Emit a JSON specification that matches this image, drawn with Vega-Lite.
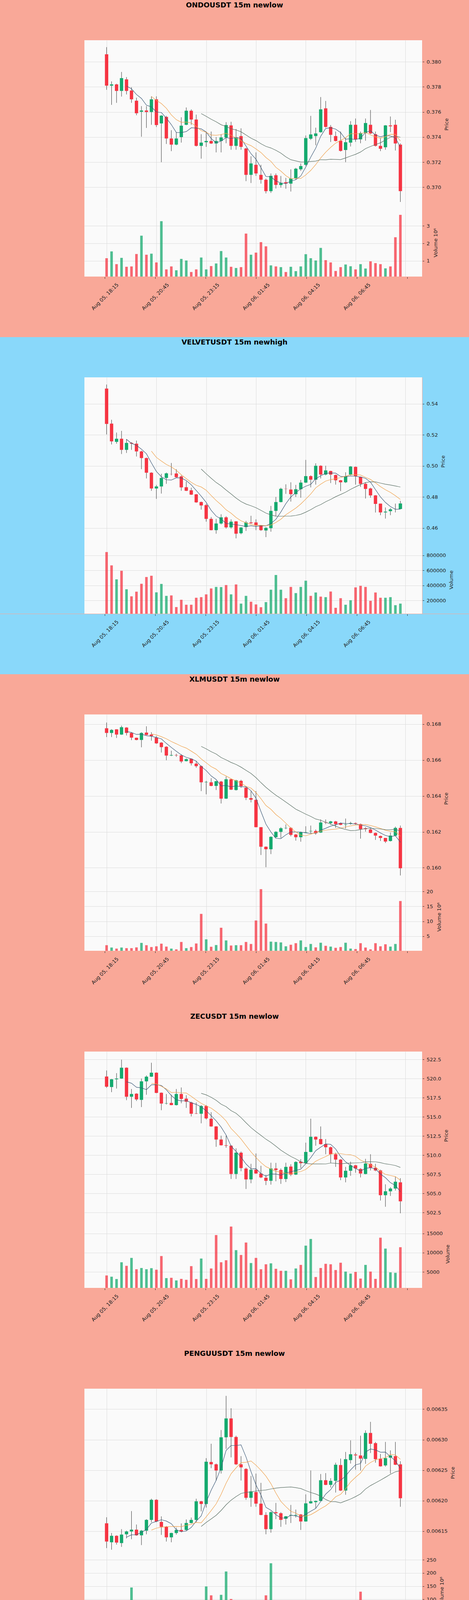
{
  "$schema": "https://vega.github.io/schema/vega-lite/v6.json",
  "padding": 0,
  "background": "#F9A898",
  "spacing": 0,
  "config": {
    "view": {"stroke": null},
    "font": "DejaVu Sans",
    "axis": {"gridColor": "#dcdcdc", "gridWidth": 1, "labelColor": "#222222", "titleColor": "#222222", "tickColor": "#222222", "labelFont": "DejaVu Sans", "titleFont": "DejaVu Sans", "labelFontSize": 13, "titleFontSize": 13, "titleFontWeight": "normal"},
    "title": {"font": "DejaVu Sans", "fontSize": 18, "fontWeight": "bold", "color": "#000000"}
  },
  "datasets": {
    "ondo": [
      {"i":0,"o":0.3806,"h":0.38117,"l":0.37777,"c":0.3781,"v":1.15},
      {"i":1,"o":0.3781,"h":0.37844,"l":0.37657,"c":0.3782,"v":1.54},
      {"i":2,"o":0.3782,"h":0.37825,"l":0.37673,"c":0.37768,"v":0.81},
      {"i":3,"o":0.37768,"h":0.37919,"l":0.37723,"c":0.3787,"v":1.17},
      {"i":4,"o":0.3786,"h":0.37878,"l":0.3774,"c":0.37768,"v":0.66},
      {"i":5,"o":0.37771,"h":0.37797,"l":0.37673,"c":0.37701,"v":0.68},
      {"i":6,"o":0.3769,"h":0.37714,"l":0.37574,"c":0.3759,"v":1.39},
      {"i":7,"o":0.37602,"h":0.37647,"l":0.37403,"c":0.37612,"v":2.44},
      {"i":8,"o":0.37612,"h":0.37647,"l":0.37473,"c":0.376,"v":1.35},
      {"i":9,"o":0.376,"h":0.37725,"l":0.37498,"c":0.37701,"v":1.41},
      {"i":10,"o":0.37701,"h":0.37725,"l":0.3748,"c":0.37496,"v":0.91},
      {"i":11,"o":0.37509,"h":0.37575,"l":0.372,"c":0.37571,"v":3.27},
      {"i":12,"o":0.37561,"h":0.37569,"l":0.37345,"c":0.37389,"v":0.51},
      {"i":13,"o":0.37389,"h":0.37455,"l":0.37288,"c":0.3734,"v":0.68},
      {"i":14,"o":0.3734,"h":0.37439,"l":0.37335,"c":0.37389,"v":0.46},
      {"i":15,"o":0.374,"h":0.37558,"l":0.37356,"c":0.37491,"v":1.11},
      {"i":16,"o":0.37498,"h":0.37636,"l":0.37495,"c":0.3761,"v":1.02},
      {"i":17,"o":0.3761,"h":0.37621,"l":0.37498,"c":0.3754,"v":0.36},
      {"i":18,"o":0.3754,"h":0.37579,"l":0.37325,"c":0.3733,"v":0.51},
      {"i":19,"o":0.3733,"h":0.37423,"l":0.37228,"c":0.37356,"v":1.19},
      {"i":20,"o":0.37359,"h":0.37444,"l":0.37322,"c":0.37369,"v":0.51},
      {"i":21,"o":0.37369,"h":0.37444,"l":0.37345,"c":0.37349,"v":0.7},
      {"i":22,"o":0.37349,"h":0.374,"l":0.37278,"c":0.37369,"v":0.85},
      {"i":23,"o":0.37369,"h":0.37423,"l":0.37278,"c":0.37397,"v":1.56},
      {"i":24,"o":0.37397,"h":0.37519,"l":0.37351,"c":0.37496,"v":1.19},
      {"i":25,"o":0.37493,"h":0.37522,"l":0.37299,"c":0.3733,"v":0.66},
      {"i":26,"o":0.3733,"h":0.37465,"l":0.37299,"c":0.37397,"v":0.59},
      {"i":27,"o":0.37408,"h":0.3747,"l":0.37299,"c":0.37322,"v":0.64},
      {"i":28,"o":0.37309,"h":0.37315,"l":0.37049,"c":0.37099,"v":2.56},
      {"i":29,"o":0.37099,"h":0.37247,"l":0.37034,"c":0.3719,"v":1.35},
      {"i":30,"o":0.37179,"h":0.37278,"l":0.37091,"c":0.3711,"v":1.47},
      {"i":31,"o":0.37099,"h":0.37179,"l":0.37029,"c":0.3706,"v":2.07},
      {"i":32,"o":0.3706,"h":0.3707,"l":0.36951,"c":0.36969,"v":1.83},
      {"i":33,"o":0.36969,"h":0.3711,"l":0.36955,"c":0.37091,"v":0.74},
      {"i":34,"o":0.37096,"h":0.3711,"l":0.3699,"c":0.37019,"v":0.68},
      {"i":35,"o":0.37018,"h":0.3709,"l":0.36997,"c":0.37034,"v":0.64},
      {"i":36,"o":0.3704,"h":0.37075,"l":0.36988,"c":0.3703,"v":0.36},
      {"i":37,"o":0.37029,"h":0.37143,"l":0.36966,"c":0.3707,"v":0.66},
      {"i":38,"o":0.3707,"h":0.37155,"l":0.3706,"c":0.37148,"v":0.41},
      {"i":39,"o":0.37143,"h":0.3719,"l":0.3713,"c":0.37169,"v":0.68},
      {"i":40,"o":0.37179,"h":0.37413,"l":0.3717,"c":0.37392,"v":1.38},
      {"i":41,"o":0.37387,"h":0.37569,"l":0.37377,"c":0.37421,"v":1.15},
      {"i":42,"o":0.37408,"h":0.37475,"l":0.37335,"c":0.37429,"v":1.02},
      {"i":43,"o":0.37439,"h":0.37719,"l":0.37435,"c":0.37621,"v":1.74},
      {"i":44,"o":0.37629,"h":0.37688,"l":0.37475,"c":0.37481,"v":1.04},
      {"i":45,"o":0.37481,"h":0.37496,"l":0.37361,"c":0.37418,"v":0.91},
      {"i":46,"o":0.37408,"h":0.37444,"l":0.37365,"c":0.37369,"v":0.42},
      {"i":47,"o":0.37371,"h":0.37444,"l":0.37285,"c":0.3729,"v":0.64},
      {"i":48,"o":0.37297,"h":0.37392,"l":0.372,"c":0.37359,"v":0.79},
      {"i":49,"o":0.37356,"h":0.37527,"l":0.37325,"c":0.37498,"v":0.69},
      {"i":50,"o":0.37498,"h":0.37548,"l":0.37362,"c":0.37382,"v":0.51},
      {"i":51,"o":0.37382,"h":0.37444,"l":0.37351,"c":0.37432,"v":0.81},
      {"i":52,"o":0.37432,"h":0.37548,"l":0.37371,"c":0.37512,"v":0.56},
      {"i":53,"o":0.37498,"h":0.37616,"l":0.37423,"c":0.37429,"v":0.97},
      {"i":54,"o":0.37423,"h":0.37444,"l":0.37325,"c":0.3733,"v":0.87},
      {"i":55,"o":0.3733,"h":0.37392,"l":0.37288,"c":0.37307,"v":0.81},
      {"i":56,"o":0.37319,"h":0.37496,"l":0.37299,"c":0.37493,"v":0.57},
      {"i":57,"o":0.37493,"h":0.37564,"l":0.37439,"c":0.37486,"v":0.68},
      {"i":58,"o":0.37498,"h":0.37538,"l":0.37293,"c":0.37349,"v":2.35},
      {"i":59,"o":0.3734,"h":0.3735,"l":0.36883,"c":0.36969,"v":3.63}
    ],
    "velvet": [
      {"i":0,"o":0.54985,"h":0.55244,"l":0.5203,"c":0.52706,"v":845000},
      {"i":1,"o":0.52726,"h":0.52975,"l":0.51383,"c":0.51582,"v":668000},
      {"i":2,"o":0.51552,"h":0.52149,"l":0.51433,"c":0.51751,"v":482000},
      {"i":3,"o":0.51751,"h":0.52259,"l":0.50766,"c":0.51035,"v":596000},
      {"i":4,"o":0.51035,"h":0.51731,"l":0.50836,"c":0.51483,"v":350000},
      {"i":5,"o":0.51483,"h":0.51532,"l":0.51035,"c":0.51433,"v":256000},
      {"i":6,"o":0.51433,"h":0.51632,"l":0.50607,"c":0.50935,"v":318000},
      {"i":7,"o":0.50935,"h":0.50985,"l":0.49791,"c":0.50507,"v":423000},
      {"i":8,"o":0.50507,"h":0.50537,"l":0.49194,"c":0.49562,"v":513000},
      {"i":9,"o":0.49562,"h":0.49592,"l":0.48398,"c":0.48547,"v":530000},
      {"i":10,"o":0.48547,"h":0.48776,"l":0.47876,"c":0.48677,"v":309000},
      {"i":11,"o":0.48677,"h":0.49493,"l":0.48219,"c":0.49224,"v":421000},
      {"i":12,"o":0.49224,"h":0.49572,"l":0.48846,"c":0.49522,"v":262000},
      {"i":13,"o":0.49483,"h":0.50189,"l":0.49393,"c":0.49473,"v":268000},
      {"i":14,"o":0.49512,"h":0.49791,"l":0.4925,"c":0.49274,"v":113000},
      {"i":15,"o":0.49323,"h":0.49393,"l":0.48398,"c":0.48617,"v":210000},
      {"i":16,"o":0.48627,"h":0.49,"l":0.4838,"c":0.48398,"v":144000},
      {"i":17,"o":0.48428,"h":0.48597,"l":0.4813,"c":0.48149,"v":144000},
      {"i":18,"o":0.48169,"h":0.4819,"l":0.47622,"c":0.47652,"v":237000},
      {"i":19,"o":0.47672,"h":0.47702,"l":0.47184,"c":0.47453,"v":245000},
      {"i":20,"o":0.47473,"h":0.47553,"l":0.46408,"c":0.46587,"v":282000},
      {"i":21,"o":0.46587,"h":0.46706,"l":0.4585,"c":0.45861,"v":361000},
      {"i":22,"o":0.45861,"h":0.46587,"l":0.45632,"c":0.46289,"v":381000},
      {"i":23,"o":0.46289,"h":0.46886,"l":0.46229,"c":0.46687,"v":379000},
      {"i":24,"o":0.46687,"h":0.46756,"l":0.4596,"c":0.4604,"v":406000},
      {"i":25,"o":0.4604,"h":0.46557,"l":0.4596,"c":0.46408,"v":282000},
      {"i":26,"o":0.46428,"h":0.46438,"l":0.45333,"c":0.45632,"v":414000},
      {"i":27,"o":0.45662,"h":0.4606,"l":0.45592,"c":0.4603,"v":159000},
      {"i":28,"o":0.4606,"h":0.46458,"l":0.45811,"c":0.46358,"v":262000},
      {"i":29,"o":0.46358,"h":0.46786,"l":0.46268,"c":0.46308,"v":184000},
      {"i":30,"o":0.46358,"h":0.46557,"l":0.45861,"c":0.4616,"v":148000},
      {"i":31,"o":0.4616,"h":0.4619,"l":0.45811,"c":0.45861,"v":111000},
      {"i":32,"o":0.45841,"h":0.4606,"l":0.45413,"c":0.4601,"v":179000},
      {"i":33,"o":0.4599,"h":0.47423,"l":0.45761,"c":0.47104,"v":344000},
      {"i":34,"o":0.47104,"h":0.48,"l":0.46756,"c":0.47672,"v":540000},
      {"i":35,"o":0.47672,"h":0.48597,"l":0.47652,"c":0.48527,"v":344000},
      {"i":36,"o":0.48527,"h":0.48816,"l":0.48199,"c":0.48517,"v":231000},
      {"i":37,"o":0.48478,"h":0.48945,"l":0.47701,"c":0.48179,"v":381000},
      {"i":38,"o":0.48179,"h":0.48776,"l":0.48,"c":0.48498,"v":299000},
      {"i":39,"o":0.48498,"h":0.49094,"l":0.4795,"c":0.48925,"v":381000},
      {"i":40,"o":0.48925,"h":0.50388,"l":0.489,"c":0.49343,"v":464000},
      {"i":41,"o":0.49343,"h":0.49393,"l":0.48617,"c":0.49114,"v":262000},
      {"i":42,"o":0.49114,"h":0.50169,"l":0.48796,"c":0.5001,"v":307000},
      {"i":43,"o":0.5001,"h":0.5004,"l":0.49194,"c":0.49443,"v":252000},
      {"i":44,"o":0.49443,"h":0.5001,"l":0.49393,"c":0.49711,"v":245000},
      {"i":45,"o":0.49672,"h":0.49692,"l":0.48896,"c":0.49443,"v":320000},
      {"i":46,"o":0.49413,"h":0.49443,"l":0.48796,"c":0.49075,"v":103000},
      {"i":47,"o":0.49075,"h":0.49094,"l":0.48378,"c":0.48945,"v":231000},
      {"i":48,"o":0.48945,"h":0.49592,"l":0.48896,"c":0.49343,"v":144000},
      {"i":49,"o":0.49443,"h":0.4999,"l":0.49393,"c":0.4996,"v":204000},
      {"i":50,"o":0.4994,"h":0.4996,"l":0.48796,"c":0.49343,"v":375000},
      {"i":51,"o":0.49294,"h":0.49314,"l":0.48647,"c":0.48846,"v":396000},
      {"i":52,"o":0.48846,"h":0.48945,"l":0.479,"c":0.48517,"v":381000},
      {"i":53,"o":0.48547,"h":0.48597,"l":0.4795,"c":0.481,"v":196000},
      {"i":54,"o":0.481,"h":0.4812,"l":0.46997,"c":0.47552,"v":307000},
      {"i":55,"o":0.47572,"h":0.47572,"l":0.46826,"c":0.47005,"v":237000},
      {"i":56,"o":0.47005,"h":0.47323,"l":0.46607,"c":0.47055,"v":237000},
      {"i":57,"o":0.47085,"h":0.47284,"l":0.46826,"c":0.47204,"v":245000},
      {"i":58,"o":0.47214,"h":0.47572,"l":0.47005,"c":0.47224,"v":138000},
      {"i":59,"o":0.47224,"h":0.47751,"l":0.47204,"c":0.47582,"v":159000}
    ],
    "xlm": [
      {"i":0,"o":0.16777,"h":0.16809,"l":0.16728,"c":0.16751,"v":2.02},
      {"i":1,"o":0.16751,"h":0.16772,"l":0.16728,"c":0.16768,"v":1.24},
      {"i":2,"o":0.16771,"h":0.16772,"l":0.16723,"c":0.16742,"v":0.88},
      {"i":3,"o":0.16742,"h":0.16792,"l":0.1674,"c":0.16783,"v":1.24},
      {"i":4,"o":0.16781,"h":0.16783,"l":0.16737,"c":0.16751,"v":1.03},
      {"i":5,"o":0.16751,"h":0.16755,"l":0.16711,"c":0.16725,"v":1.03},
      {"i":6,"o":0.16724,"h":0.16725,"l":0.1671,"c":0.16712,"v":1.29},
      {"i":7,"o":0.16712,"h":0.16755,"l":0.16671,"c":0.16751,"v":2.79},
      {"i":8,"o":0.16753,"h":0.16788,"l":0.16738,"c":0.1674,"v":2.02},
      {"i":9,"o":0.16742,"h":0.16755,"l":0.16708,"c":0.16734,"v":1.4},
      {"i":10,"o":0.16725,"h":0.16734,"l":0.1669,"c":0.16693,"v":1.65},
      {"i":11,"o":0.16697,"h":0.167,"l":0.16642,"c":0.16672,"v":2.53},
      {"i":12,"o":0.16674,"h":0.16677,"l":0.16599,"c":0.16625,"v":1.55},
      {"i":13,"o":0.16625,"h":0.16652,"l":0.16622,"c":0.16628,"v":0.88},
      {"i":14,"o":0.16628,"h":0.16635,"l":0.16618,"c":0.16626,"v":0.62},
      {"i":15,"o":0.16626,"h":0.16632,"l":0.16583,"c":0.16592,"v":3.1},
      {"i":16,"o":0.16594,"h":0.16609,"l":0.16592,"c":0.16605,"v":1.03},
      {"i":17,"o":0.16607,"h":0.16609,"l":0.1657,"c":0.16582,"v":1.4},
      {"i":18,"o":0.1658,"h":0.16593,"l":0.16557,"c":0.16566,"v":2.59},
      {"i":19,"o":0.16566,"h":0.1657,"l":0.16427,"c":0.16476,"v":12.5},
      {"i":20,"o":0.16476,"h":0.16484,"l":0.16409,"c":0.16478,"v":3.98},
      {"i":21,"o":0.16476,"h":0.16499,"l":0.16454,"c":0.16456,"v":1.5},
      {"i":22,"o":0.16456,"h":0.16484,"l":0.16433,"c":0.16482,"v":2.07},
      {"i":23,"o":0.1648,"h":0.16484,"l":0.16358,"c":0.16385,"v":7.86},
      {"i":24,"o":0.16385,"h":0.16508,"l":0.16383,"c":0.16493,"v":3.62},
      {"i":25,"o":0.16493,"h":0.16497,"l":0.16433,"c":0.16435,"v":1.91},
      {"i":26,"o":0.16433,"h":0.1649,"l":0.1643,"c":0.16487,"v":2.02},
      {"i":27,"o":0.16484,"h":0.1649,"l":0.16445,"c":0.16454,"v":2.02},
      {"i":28,"o":0.16446,"h":0.1645,"l":0.16377,"c":0.1639,"v":3.1},
      {"i":29,"o":0.16388,"h":0.16427,"l":0.16364,"c":0.16379,"v":2.43},
      {"i":30,"o":0.16378,"h":0.16427,"l":0.16225,"c":0.16226,"v":10.29},
      {"i":31,"o":0.16226,"h":0.16226,"l":0.16071,"c":0.16117,"v":20.79},
      {"i":32,"o":0.16117,"h":0.16119,"l":0.16003,"c":0.16103,"v":9.26},
      {"i":33,"o":0.16103,"h":0.16175,"l":0.16076,"c":0.16172,"v":3.21},
      {"i":34,"o":0.1617,"h":0.16204,"l":0.16166,"c":0.162,"v":3.1},
      {"i":35,"o":0.162,"h":0.16226,"l":0.16166,"c":0.1622,"v":2.95},
      {"i":36,"o":0.1622,"h":0.16241,"l":0.16215,"c":0.16222,"v":1.65},
      {"i":37,"o":0.16222,"h":0.16226,"l":0.16175,"c":0.16183,"v":2.17},
      {"i":38,"o":0.16185,"h":0.16188,"l":0.16151,"c":0.1617,"v":2.69},
      {"i":39,"o":0.1617,"h":0.16201,"l":0.16145,"c":0.16198,"v":3.62},
      {"i":40,"o":0.16196,"h":0.16231,"l":0.16194,"c":0.16198,"v":1.4},
      {"i":41,"o":0.16203,"h":0.16235,"l":0.16192,"c":0.16205,"v":2.43},
      {"i":42,"o":0.16205,"h":0.16213,"l":0.16184,"c":0.16192,"v":1.29},
      {"i":43,"o":0.16196,"h":0.16269,"l":0.16194,"c":0.16252,"v":2.84},
      {"i":44,"o":0.16254,"h":0.16269,"l":0.16243,"c":0.16252,"v":1.81},
      {"i":45,"o":0.16249,"h":0.16261,"l":0.1624,"c":0.16258,"v":1.55},
      {"i":46,"o":0.16258,"h":0.16261,"l":0.16222,"c":0.16243,"v":1.14},
      {"i":47,"o":0.16249,"h":0.16252,"l":0.16237,"c":0.16239,"v":1.4},
      {"i":48,"o":0.16239,"h":0.16274,"l":0.16218,"c":0.16241,"v":2.84},
      {"i":49,"o":0.16245,"h":0.16256,"l":0.1624,"c":0.16249,"v":0.88},
      {"i":50,"o":0.16249,"h":0.16252,"l":0.1624,"c":0.16246,"v":0.72},
      {"i":51,"o":0.16243,"h":0.16246,"l":0.16162,"c":0.16215,"v":2.69},
      {"i":52,"o":0.1622,"h":0.16226,"l":0.16201,"c":0.16215,"v":1.24},
      {"i":53,"o":0.16213,"h":0.1622,"l":0.16192,"c":0.16194,"v":0.62},
      {"i":54,"o":0.16194,"h":0.16196,"l":0.16155,"c":0.16179,"v":2.69},
      {"i":55,"o":0.16177,"h":0.16179,"l":0.16149,"c":0.16166,"v":1.65},
      {"i":56,"o":0.16166,"h":0.16166,"l":0.16138,"c":0.16146,"v":2.33},
      {"i":57,"o":0.16149,"h":0.16196,"l":0.16146,"c":0.16179,"v":1.55},
      {"i":58,"o":0.16179,"h":0.16229,"l":0.16175,"c":0.16222,"v":2.43},
      {"i":59,"o":0.16222,"h":0.16235,"l":0.15957,"c":0.15997,"v":16.8}
    ],
    "zec": [
      {"i":0,"o":520.28,"h":521.07,"l":518.81,"c":518.95,"v":4069},
      {"i":1,"o":518.91,"h":519.96,"l":518.24,"c":519.92,"v":3745},
      {"i":2,"o":519.92,"h":520.72,"l":518.71,"c":520.02,"v":3138},
      {"i":3,"o":520.02,"h":522.48,"l":519.98,"c":521.43,"v":7511},
      {"i":4,"o":521.43,"h":521.47,"l":517.19,"c":517.64,"v":6580},
      {"i":5,"o":517.64,"h":518.65,"l":516.18,"c":518.0,"v":8645},
      {"i":6,"o":518.04,"h":518.1,"l":517.09,"c":517.29,"v":5689},
      {"i":7,"o":517.23,"h":520.02,"l":516.29,"c":519.65,"v":6013},
      {"i":8,"o":519.65,"h":520.42,"l":517.9,"c":520.26,"v":5689},
      {"i":9,"o":520.26,"h":522.08,"l":520.22,"c":520.78,"v":5972},
      {"i":10,"o":520.78,"h":520.82,"l":518.1,"c":518.14,"v":5567},
      {"i":11,"o":518.16,"h":518.2,"l":515.88,"c":516.75,"v":9130},
      {"i":12,"o":516.75,"h":518.0,"l":516.63,"c":516.79,"v":3381},
      {"i":13,"o":516.83,"h":517.9,"l":516.53,"c":516.55,"v":3462},
      {"i":14,"o":516.55,"h":518.65,"l":516.49,"c":518.0,"v":2774},
      {"i":15,"o":518.0,"h":518.85,"l":516.79,"c":517.35,"v":3178},
      {"i":16,"o":517.39,"h":517.84,"l":516.18,"c":516.99,"v":2935},
      {"i":17,"o":516.89,"h":516.99,"l":515.07,"c":515.42,"v":6499},
      {"i":18,"o":515.46,"h":516.89,"l":515.38,"c":515.42,"v":3138},
      {"i":19,"o":515.42,"h":516.55,"l":514.17,"c":516.43,"v":8483},
      {"i":20,"o":516.43,"h":516.55,"l":514.67,"c":514.81,"v":3178},
      {"i":21,"o":514.77,"h":515.62,"l":513.72,"c":513.76,"v":5891},
      {"i":22,"o":513.76,"h":513.8,"l":511.1,"c":512.05,"v":14597},
      {"i":23,"o":512.05,"h":512.55,"l":511.26,"c":511.3,"v":7511},
      {"i":24,"o":511.3,"h":512.55,"l":510.98,"c":511.24,"v":8037},
      {"i":25,"o":511.24,"h":511.34,"l":506.9,"c":507.55,"v":16823},
      {"i":26,"o":507.55,"h":510.9,"l":506.9,"c":510.33,"v":10669},
      {"i":27,"o":510.33,"h":510.49,"l":507.91,"c":508.32,"v":9414},
      {"i":28,"o":508.26,"h":508.42,"l":505.59,"c":506.84,"v":12653},
      {"i":29,"o":506.84,"h":508.88,"l":506.34,"c":508.11,"v":7309},
      {"i":30,"o":508.11,"h":510.23,"l":507.58,"c":507.61,"v":8645},
      {"i":31,"o":507.61,"h":508.62,"l":507.0,"c":507.1,"v":5689},
      {"i":32,"o":507.06,"h":507.45,"l":506.1,"c":506.66,"v":6985},
      {"i":33,"o":506.66,"h":509.02,"l":506.16,"c":508.27,"v":7228},
      {"i":34,"o":508.27,"h":509.0,"l":506.6,"c":508.07,"v":5810},
      {"i":35,"o":508.07,"h":508.27,"l":506.26,"c":506.9,"v":5284},
      {"i":36,"o":506.9,"h":509.02,"l":506.5,"c":508.48,"v":5284},
      {"i":37,"o":508.52,"h":508.82,"l":507.27,"c":507.47,"v":3057},
      {"i":38,"o":507.47,"h":509.22,"l":507.41,"c":509.12,"v":5891},
      {"i":39,"o":509.16,"h":509.49,"l":508.32,"c":508.96,"v":6823},
      {"i":40,"o":508.96,"h":511.64,"l":508.92,"c":510.43,"v":11843},
      {"i":41,"o":510.43,"h":514.77,"l":510.39,"c":512.41,"v":13584},
      {"i":42,"o":512.41,"h":512.45,"l":511.24,"c":512.05,"v":3664},
      {"i":43,"o":512.11,"h":513.76,"l":511.4,"c":511.44,"v":6013},
      {"i":44,"o":511.44,"h":512.11,"l":510.13,"c":511.04,"v":7106},
      {"i":45,"o":511.04,"h":511.14,"l":509.02,"c":510.13,"v":6985},
      {"i":46,"o":510.13,"h":510.33,"l":508.48,"c":509.43,"v":5486},
      {"i":47,"o":509.43,"h":509.49,"l":506.74,"c":507.1,"v":7390},
      {"i":48,"o":507.1,"h":508.48,"l":506.46,"c":507.97,"v":5081},
      {"i":49,"o":507.97,"h":509.16,"l":507.31,"c":508.68,"v":4555},
      {"i":50,"o":508.68,"h":508.74,"l":507.71,"c":508.27,"v":5000},
      {"i":51,"o":508.21,"h":508.32,"l":507.1,"c":507.61,"v":3259},
      {"i":52,"o":507.55,"h":509.53,"l":507.51,"c":508.92,"v":6823},
      {"i":53,"o":508.88,"h":510.13,"l":508.01,"c":508.36,"v":5081},
      {"i":54,"o":508.36,"h":508.88,"l":507.91,"c":508.01,"v":3178},
      {"i":55,"o":508.01,"h":508.11,"l":504.08,"c":504.78,"v":13908},
      {"i":56,"o":504.78,"h":506.2,"l":503.27,"c":505.29,"v":11074},
      {"i":57,"o":505.29,"h":505.83,"l":504.68,"c":505.65,"v":4879},
      {"i":58,"o":505.65,"h":507.21,"l":505.39,"c":506.54,"v":4757},
      {"i":59,"o":506.46,"h":507.0,"l":502.42,"c":503.98,"v":11438}
    ],
    "pengu": [
      {"i":0,"o":0.0061629,"h":0.0061728,"l":0.0061222,"c":0.006133,"v":24},
      {"i":1,"o":0.0061318,"h":0.006147,"l":0.0061196,"c":0.0061424,"v":33},
      {"i":2,"o":0.0061424,"h":0.0061432,"l":0.006128,"c":0.0061313,"v":10},
      {"i":3,"o":0.0061305,"h":0.0061533,"l":0.0061242,"c":0.0061444,"v":22},
      {"i":4,"o":0.0061449,"h":0.0061508,"l":0.0061381,"c":0.0061495,"v":10},
      {"i":5,"o":0.0061495,"h":0.0061829,"l":0.0061368,"c":0.0061525,"v":145},
      {"i":6,"o":0.0061525,"h":0.0061609,"l":0.0061424,"c":0.0061432,"v":30},
      {"i":7,"o":0.0061432,"h":0.006152,"l":0.0061272,"c":0.0061508,"v":53},
      {"i":8,"o":0.0061508,"h":0.0061697,"l":0.0061449,"c":0.0061685,"v":24},
      {"i":9,"o":0.0061685,"h":0.0062032,"l":0.0061647,"c":0.0062014,"v":78},
      {"i":10,"o":0.0062014,"h":0.0062024,"l":0.0061647,"c":0.0061659,"v":19},
      {"i":11,"o":0.0061652,"h":0.0061743,"l":0.0061439,"c":0.0061571,"v":32},
      {"i":12,"o":0.0061571,"h":0.0061584,"l":0.006133,"c":0.0061399,"v":19},
      {"i":13,"o":0.0061399,"h":0.0061475,"l":0.0061318,"c":0.006147,"v":9},
      {"i":14,"o":0.006147,"h":0.0061558,"l":0.0061444,"c":0.006152,"v":9},
      {"i":15,"o":0.006152,"h":0.0061627,"l":0.0061482,"c":0.0061495,"v":15},
      {"i":16,"o":0.006152,"h":0.0061692,"l":0.0061508,"c":0.0061634,"v":13},
      {"i":17,"o":0.0061634,"h":0.0061723,"l":0.0061627,"c":0.0061685,"v":9},
      {"i":18,"o":0.0061685,"h":0.0062032,"l":0.0061647,"c":0.0061989,"v":77},
      {"i":19,"o":0.0061989,"h":0.0061996,"l":0.0061824,"c":0.0061946,"v":58},
      {"i":20,"o":0.0061946,"h":0.0062697,"l":0.0061887,"c":0.0062639,"v":149},
      {"i":21,"o":0.0062634,"h":0.0062933,"l":0.0062533,"c":0.0062596,"v":115},
      {"i":22,"o":0.0062596,"h":0.0062609,"l":0.006233,"c":0.0062495,"v":58},
      {"i":23,"o":0.0062495,"h":0.0063158,"l":0.0062444,"c":0.0063039,"v":117},
      {"i":24,"o":0.0063039,"h":0.0063718,"l":0.0062849,"c":0.0063348,"v":206},
      {"i":25,"o":0.0063348,"h":0.0063515,"l":0.006271,"c":0.0063044,"v":101},
      {"i":26,"o":0.0063044,"h":0.0063065,"l":0.0062584,"c":0.0062596,"v":50},
      {"i":27,"o":0.0062596,"h":0.006273,"l":0.006233,"c":0.0062546,"v":93},
      {"i":28,"o":0.006252,"h":0.0062533,"l":0.0062014,"c":0.0062047,"v":53},
      {"i":29,"o":0.0062047,"h":0.0062406,"l":0.00619,"c":0.0062153,"v":59},
      {"i":30,"o":0.0062141,"h":0.0062444,"l":0.00619,"c":0.0061951,"v":64},
      {"i":31,"o":0.0061951,"h":0.0062292,"l":0.0061761,"c":0.0061766,"v":67},
      {"i":32,"o":0.0061766,"h":0.0061811,"l":0.0061449,"c":0.0061533,"v":115},
      {"i":33,"o":0.0061533,"h":0.0061824,"l":0.0061475,"c":0.0061811,"v":237},
      {"i":34,"o":0.0061811,"h":0.0061963,"l":0.0061697,"c":0.0061794,"v":33},
      {"i":35,"o":0.0061794,"h":0.0061811,"l":0.0061571,"c":0.0061685,"v":24},
      {"i":36,"o":0.0061703,"h":0.0061748,"l":0.0061609,"c":0.0061743,"v":16},
      {"i":37,"o":0.0061758,"h":0.006193,"l":0.0061634,"c":0.0061766,"v":29},
      {"i":38,"o":0.0061758,"h":0.0061854,"l":0.0061723,"c":0.0061766,"v":21},
      {"i":39,"o":0.0061773,"h":0.0061781,"l":0.006152,"c":0.0061659,"v":43},
      {"i":40,"o":0.0061659,"h":0.0062103,"l":0.0061655,"c":0.0061956,"v":64},
      {"i":41,"o":0.0061956,"h":0.0062495,"l":0.0061951,"c":0.0061989,"v":83},
      {"i":42,"o":0.0061976,"h":0.0062002,"l":0.0061875,"c":0.0061996,"v":21},
      {"i":43,"o":0.0061996,"h":0.0062437,"l":0.0061991,"c":0.0062335,"v":43},
      {"i":44,"o":0.0062335,"h":0.0062452,"l":0.0062254,"c":0.0062259,"v":30},
      {"i":45,"o":0.0062259,"h":0.0062368,"l":0.0062216,"c":0.0062325,"v":12},
      {"i":46,"o":0.0062325,"h":0.0062622,"l":0.0062133,"c":0.0062589,"v":44},
      {"i":47,"o":0.0062584,"h":0.006269,"l":0.0062158,"c":0.0062166,"v":40},
      {"i":48,"o":0.0062166,"h":0.0062799,"l":0.0062097,"c":0.006268,"v":40},
      {"i":49,"o":0.0062665,"h":0.0062989,"l":0.0062609,"c":0.0062761,"v":59},
      {"i":50,"o":0.0062756,"h":0.0062786,"l":0.0062508,"c":0.0062743,"v":61},
      {"i":51,"o":0.0062741,"h":0.0063065,"l":0.0062495,"c":0.006269,"v":129},
      {"i":52,"o":0.0062685,"h":0.0063153,"l":0.0062604,"c":0.006311,"v":30},
      {"i":53,"o":0.006311,"h":0.0063292,"l":0.0062781,"c":0.0062933,"v":65},
      {"i":54,"o":0.0062943,"h":0.0062963,"l":0.0062622,"c":0.006268,"v":34},
      {"i":55,"o":0.0062685,"h":0.0062766,"l":0.0062558,"c":0.0062563,"v":39},
      {"i":56,"o":0.0062578,"h":0.0062963,"l":0.0062558,"c":0.0062697,"v":52},
      {"i":57,"o":0.0062705,"h":0.0062824,"l":0.0062444,"c":0.0062741,"v":52},
      {"i":58,"o":0.006273,"h":0.0062963,"l":0.0062584,"c":0.0062589,"v":64},
      {"i":59,"o":0.0062596,"h":0.0062647,"l":0.00619,"c":0.0062039,"v":86}
    ]
  },
  "vconcat": [
    {
      "spacing": 0,
      "vconcat": [
        {"data": {"values": []}, "mark": "point", "width": 1200, "height": 103, "view": {"fill": "#F9A898", "stroke": null},
         "title": {"text": "ONDOUSDT 15m newlow", "orient": "top", "anchor": "middle", "offset": -23}},
        {"spacing": 0, "hconcat": [
          {"data": {"values": []}, "mark": "point", "width": 216, "height": 605, "view": {"fill": "#F9A898", "stroke": null}},
          {"spacing": 0, "vconcat": [
            {"data": {"name": "ondo"}, "width": 864, "height": 431, "view": {"fill": "#fafafa", "stroke": null},
             "encoding": {"x": {"field": "i", "type": "quantitative", "scale": {"domain": [-4.06, 62.97], "nice": false, "zero": false},
               "axis": {"values": [0,10,20,30,40,50,60], "grid": true, "labels": false, "ticks": false, "domain": false, "title": null}}},
             "layer": [
               {"mark": {"type": "rule", "color": "#2d2d2d", "strokeWidth": 1},
                "encoding": {"y": {"field": "l", "type": "quantitative", "scale": {"domain": [0.3683, 0.38172], "nice": false, "zero": false},
                  "axis": {"values": [0.370,0.372,0.374,0.376,0.378,0.380], "grid": true, "labels": false, "ticks": false, "domain": false, "title": null}},
                  "y2": {"field": "h"}}},
               {"mark": {"type": "bar", "size": 8.5, "strokeWidth": 0.6},
                "encoding": {"y": {"field": "o", "type": "quantitative"}, "y2": {"field": "c"},
                  "color": {"condition": {"test": "datum.c >= datum.o", "value": "#14AA6E"}, "value": "#F63442"}}},
               {"transform": [{"window": [{"op": "mean", "field": "c", "as": "ma"}, {"op": "count", "as": "n"}], "frame": [-4, 0], "sort": [{"field": "i"}]}, {"filter": "datum.n == 5"}],
                "mark": {"type": "line", "strokeWidth": 1.2, "color": "#3c5a78"}, "encoding": {"y": {"field": "ma", "type": "quantitative"}}},
               {"transform": [{"window": [{"op": "mean", "field": "c", "as": "ma"}, {"op": "count", "as": "n"}], "frame": [-9, 0], "sort": [{"field": "i"}]}, {"filter": "datum.n == 10"}],
                "mark": {"type": "line", "strokeWidth": 1.2, "color": "#F0A04B"}, "encoding": {"y": {"field": "ma", "type": "quantitative"}}},
               {"transform": [{"window": [{"op": "mean", "field": "c", "as": "ma"}, {"op": "count", "as": "n"}], "frame": [-19, 0], "sort": [{"field": "i"}]}, {"filter": "datum.n == 20"}],
                "mark": {"type": "line", "strokeWidth": 1.2, "color": "#5b7065"}, "encoding": {"y": {"field": "ma", "type": "quantitative"}}}
             ]},
            {"data": {"name": "ondo"}, "width": 864, "height": 174, "view": {"fill": "#fafafa", "stroke": null},
             "mark": {"type": "bar", "size": 6.5, "opacity": 0.75},
             "encoding": {
               "x": {"field": "i", "type": "quantitative", "scale": {"domain": [-4.06, 62.97], "nice": false, "zero": false},
                 "axis": {"values": [0,10,20,30,40,50,60], "grid": true, "labels": false, "ticks": false, "domain": false, "title": null}},
               "y": {"field": "v", "type": "quantitative", "scale": {"domain": [0.1, 3.99], "nice": false, "zero": false},
                 "axis": {"values": [1,2,3], "grid": true, "labels": false, "ticks": false, "domain": false, "title": null}},
               "y2": {"datum": 0.1},
               "color": {"condition": {"test": "datum.c >= datum.o", "value": "#14AA6E"}, "value": "#F63442"}}}
          ]},
          {"spacing": 0, "vconcat": [
            {"data": {"values": []}, "mark": "point", "width": 120, "height": 431, "view": {"fill": "#F9A898", "stroke": null},
             "encoding": {"y": {"field": "p", "type": "quantitative", "scale": {"domain": [0.3683, 0.38172], "nice": false, "zero": false},
               "axis": {"orient": "left", "values": [0.370,0.372,0.374,0.376,0.378,0.380], "format": ".3f", "grid": false, "domain": false, "tickSize": -4, "labelPadding": -6, "labelAlign": "left", "labelBaseline": "middle",
                 "title": "Price", "titleX": 61, "titleY": 215, "titleAngle": -90, "titleAlign": "center", "titleBaseline": "middle"}}}},
            {"data": {"values": []}, "mark": "point", "width": 120, "height": 174, "view": {"fill": "#F9A898", "stroke": null},
             "encoding": {"y": {"field": "p", "type": "quantitative", "scale": {"domain": [0.1, 3.99], "nice": false, "zero": false},
               "axis": {"orient": "left", "values": [1,2,3], "format": "d", "grid": false, "domain": false, "tickSize": -4, "labelPadding": -6, "labelAlign": "left", "labelBaseline": "middle",
                 "title": "Volume  10⁶", "titleX": 33, "titleY": 87, "titleAngle": -90, "titleAlign": "center", "titleBaseline": "middle"}}}}
          ]}
        ]},
        {"data": {"values": []}, "mark": "point", "width": 1200, "height": 154, "view": {"fill": "#F9A898", "stroke": null},
         "encoding": {"x": {"field": "i", "type": "quantitative", "scale": {"domain": [-20.817, 72.28], "nice": false, "zero": false},
           "axis": {"orient": "top", "values": [0,10,20,30,40,50,60], "grid": false, "domain": false, "tickSize": -4, "labelPadding": -46, "labelAngle": -45, "labelAlign": "center", "labelBaseline": "middle", "labelOverlap": false, "labelFlush": false, "title": null,
             "labelExpr": "['Aug 05, 18:15','Aug 05, 20:45','Aug 05, 23:15','Aug 06, 01:45','Aug 06, 04:15','Aug 06, 06:45',''][round(datum.value / 10)]"}}}}
      ]
    },
    {
      "spacing": 0,
      "vconcat": [
        {"data": {"values": []}, "mark": "point", "width": 1200, "height": 103, "view": {"fill": "#89D8FA", "stroke": null},
         "title": {"text": "VELVETUSDT 15m newhigh", "orient": "top", "anchor": "middle", "offset": -23}},
        {"spacing": 0, "hconcat": [
          {"data": {"values": []}, "mark": "point", "width": 216, "height": 605, "view": {"fill": "#89D8FA", "stroke": null}},
          {"spacing": 0, "vconcat": [
            {"data": {"name": "velvet"}, "width": 864, "height": 431, "view": {"fill": "#fafafa", "stroke": null},
             "encoding": {"x": {"field": "i", "type": "quantitative", "scale": {"domain": [-4.06, 62.97], "nice": false, "zero": false},
               "axis": {"values": [0,10,20,30,40,50,60], "grid": true, "labels": false, "ticks": false, "domain": false, "title": null}}},
             "layer": [
               {"mark": {"type": "rule", "color": "#2d2d2d", "strokeWidth": 1},
                "encoding": {"y": {"field": "l", "type": "quantitative", "scale": {"domain": [0.44859, 0.55708], "nice": false, "zero": false},
                  "axis": {"values": [0.46,0.48,0.50,0.52,0.54], "grid": true, "labels": false, "ticks": false, "domain": false, "title": null}},
                  "y2": {"field": "h"}}},
               {"mark": {"type": "bar", "size": 8.5, "strokeWidth": 0.6},
                "encoding": {"y": {"field": "o", "type": "quantitative"}, "y2": {"field": "c"},
                  "color": {"condition": {"test": "datum.c >= datum.o", "value": "#14AA6E"}, "value": "#F63442"}}},
               {"transform": [{"window": [{"op": "mean", "field": "c", "as": "ma"}, {"op": "count", "as": "n"}], "frame": [-4, 0], "sort": [{"field": "i"}]}, {"filter": "datum.n == 5"}],
                "mark": {"type": "line", "strokeWidth": 1.2, "color": "#3c5a78"}, "encoding": {"y": {"field": "ma", "type": "quantitative"}}},
               {"transform": [{"window": [{"op": "mean", "field": "c", "as": "ma"}, {"op": "count", "as": "n"}], "frame": [-9, 0], "sort": [{"field": "i"}]}, {"filter": "datum.n == 10"}],
                "mark": {"type": "line", "strokeWidth": 1.2, "color": "#F0A04B"}, "encoding": {"y": {"field": "ma", "type": "quantitative"}}},
               {"transform": [{"window": [{"op": "mean", "field": "c", "as": "ma"}, {"op": "count", "as": "n"}], "frame": [-19, 0], "sort": [{"field": "i"}]}, {"filter": "datum.n == 20"}],
                "mark": {"type": "line", "strokeWidth": 1.2, "color": "#5b7065"}, "encoding": {"y": {"field": "ma", "type": "quantitative"}}}
             ]},
            {"data": {"name": "velvet"}, "width": 864, "height": 174, "view": {"fill": "#fafafa", "stroke": null},
             "mark": {"type": "bar", "size": 6.5, "opacity": 0.75},
             "encoding": {
               "x": {"field": "i", "type": "quantitative", "scale": {"domain": [-4.06, 62.97], "nice": false, "zero": false},
                 "axis": {"values": [0,10,20,30,40,50,60], "grid": true, "labels": false, "ticks": false, "domain": false, "title": null}},
               "y": {"field": "v", "type": "quantitative", "scale": {"domain": [25000, 930000], "nice": false, "zero": false},
                 "axis": {"values": [200000,400000,600000,800000], "grid": true, "labels": false, "ticks": false, "domain": false, "title": null}},
               "y2": {"datum": 25000},
               "color": {"condition": {"test": "datum.c >= datum.o", "value": "#14AA6E"}, "value": "#F63442"}}}
          ]},
          {"spacing": 0, "vconcat": [
            {"data": {"values": []}, "mark": "point", "width": 120, "height": 431, "view": {"fill": "#89D8FA", "stroke": null},
             "encoding": {"y": {"field": "p", "type": "quantitative", "scale": {"domain": [0.44859, 0.55708], "nice": false, "zero": false},
               "axis": {"orient": "left", "values": [0.46,0.48,0.50,0.52,0.54], "format": ".2f", "grid": false, "domain": false, "tickSize": -4, "labelPadding": -6, "labelAlign": "left", "labelBaseline": "middle",
                 "title": "Price", "titleX": 52, "titleY": 215, "titleAngle": -90, "titleAlign": "center", "titleBaseline": "middle"}}}},
            {"data": {"values": []}, "mark": "point", "width": 120, "height": 174, "view": {"fill": "#89D8FA", "stroke": null},
             "encoding": {"y": {"field": "p", "type": "quantitative", "scale": {"domain": [25000, 930000], "nice": false, "zero": false},
               "axis": {"orient": "left", "values": [200000,400000,600000,800000], "format": "d", "grid": false, "domain": false, "tickSize": -4, "labelPadding": -6, "labelAlign": "left", "labelBaseline": "middle",
                 "title": "Volume", "titleX": 73, "titleY": 87, "titleAngle": -90, "titleAlign": "center", "titleBaseline": "middle"}}}}
          ]}
        ]},
        {"data": {"values": []}, "mark": "point", "width": 1200, "height": 154, "view": {"fill": "#89D8FA", "stroke": null},
         "encoding": {"x": {"field": "i", "type": "quantitative", "scale": {"domain": [-20.817, 72.28], "nice": false, "zero": false},
           "axis": {"orient": "top", "values": [0,10,20,30,40,50,60], "grid": false, "domain": false, "tickSize": -4, "labelPadding": -46, "labelAngle": -45, "labelAlign": "center", "labelBaseline": "middle", "labelOverlap": false, "labelFlush": false, "title": null,
             "labelExpr": "['Aug 05, 18:15','Aug 05, 20:45','Aug 05, 23:15','Aug 06, 01:45','Aug 06, 04:15','Aug 06, 06:45',''][round(datum.value / 10)]"}}}}
      ]
    },
    {
      "spacing": 0,
      "vconcat": [
        {"data": {"values": []}, "mark": "point", "width": 1200, "height": 103, "view": {"fill": "#F9A898", "stroke": null},
         "title": {"text": "XLMUSDT 15m newlow", "orient": "top", "anchor": "middle", "offset": -23}},
        {"spacing": 0, "hconcat": [
          {"data": {"values": []}, "mark": "point", "width": 216, "height": 605, "view": {"fill": "#F9A898", "stroke": null}},
          {"spacing": 0, "vconcat": [
            {"data": {"name": "xlm"}, "width": 864, "height": 431, "view": {"fill": "#fafafa", "stroke": null},
             "encoding": {"x": {"field": "i", "type": "quantitative", "scale": {"domain": [-4.06, 62.97], "nice": false, "zero": false},
               "axis": {"values": [0,10,20,30,40,50,60], "grid": true, "labels": false, "ticks": false, "domain": false, "title": null}}},
             "layer": [
               {"mark": {"type": "rule", "color": "#2d2d2d", "strokeWidth": 1},
                "encoding": {"y": {"field": "l", "type": "quantitative", "scale": {"domain": [0.15916, 0.16854], "nice": false, "zero": false},
                  "axis": {"values": [0.160,0.162,0.164,0.166,0.168], "grid": true, "labels": false, "ticks": false, "domain": false, "title": null}},
                  "y2": {"field": "h"}}},
               {"mark": {"type": "bar", "size": 8.5, "strokeWidth": 0.6},
                "encoding": {"y": {"field": "o", "type": "quantitative"}, "y2": {"field": "c"},
                  "color": {"condition": {"test": "datum.c >= datum.o", "value": "#14AA6E"}, "value": "#F63442"}}},
               {"transform": [{"window": [{"op": "mean", "field": "c", "as": "ma"}, {"op": "count", "as": "n"}], "frame": [-4, 0], "sort": [{"field": "i"}]}, {"filter": "datum.n == 5"}],
                "mark": {"type": "line", "strokeWidth": 1.2, "color": "#3c5a78"}, "encoding": {"y": {"field": "ma", "type": "quantitative"}}},
               {"transform": [{"window": [{"op": "mean", "field": "c", "as": "ma"}, {"op": "count", "as": "n"}], "frame": [-9, 0], "sort": [{"field": "i"}]}, {"filter": "datum.n == 10"}],
                "mark": {"type": "line", "strokeWidth": 1.2, "color": "#F0A04B"}, "encoding": {"y": {"field": "ma", "type": "quantitative"}}},
               {"transform": [{"window": [{"op": "mean", "field": "c", "as": "ma"}, {"op": "count", "as": "n"}], "frame": [-19, 0], "sort": [{"field": "i"}]}, {"filter": "datum.n == 20"}],
                "mark": {"type": "line", "strokeWidth": 1.2, "color": "#5b7065"}, "encoding": {"y": {"field": "ma", "type": "quantitative"}}}
             ]},
            {"data": {"name": "xlm"}, "width": 864, "height": 174, "view": {"fill": "#fafafa", "stroke": null},
             "mark": {"type": "bar", "size": 6.5, "opacity": 0.75},
             "encoding": {
               "x": {"field": "i", "type": "quantitative", "scale": {"domain": [-4.06, 62.97], "nice": false, "zero": false},
                 "axis": {"values": [0,10,20,30,40,50,60], "grid": true, "labels": false, "ticks": false, "domain": false, "title": null}},
               "y": {"field": "v", "type": "quantitative", "scale": {"domain": [0.15, 22.9], "nice": false, "zero": false},
                 "axis": {"values": [5,10,15,20], "grid": true, "labels": false, "ticks": false, "domain": false, "title": null}},
               "y2": {"datum": 0.15},
               "color": {"condition": {"test": "datum.c >= datum.o", "value": "#14AA6E"}, "value": "#F63442"}}}
          ]},
          {"spacing": 0, "vconcat": [
            {"data": {"values": []}, "mark": "point", "width": 120, "height": 431, "view": {"fill": "#F9A898", "stroke": null},
             "encoding": {"y": {"field": "p", "type": "quantitative", "scale": {"domain": [0.15916, 0.16854], "nice": false, "zero": false},
               "axis": {"orient": "left", "values": [0.160,0.162,0.164,0.166,0.168], "format": ".3f", "grid": false, "domain": false, "tickSize": -4, "labelPadding": -6, "labelAlign": "left", "labelBaseline": "middle",
                 "title": "Price", "titleX": 60, "titleY": 215, "titleAngle": -90, "titleAlign": "center", "titleBaseline": "middle"}}}},
            {"data": {"values": []}, "mark": "point", "width": 120, "height": 174, "view": {"fill": "#F9A898", "stroke": null},
             "encoding": {"y": {"field": "p", "type": "quantitative", "scale": {"domain": [0.15, 22.9], "nice": false, "zero": false},
               "axis": {"orient": "left", "values": [5,10,15,20], "format": "d", "grid": false, "domain": false, "tickSize": -4, "labelPadding": -6, "labelAlign": "left", "labelBaseline": "middle",
                 "title": "Volume  10⁶", "titleX": 42, "titleY": 87, "titleAngle": -90, "titleAlign": "center", "titleBaseline": "middle"}}}}
          ]}
        ]},
        {"data": {"values": []}, "mark": "point", "width": 1200, "height": 154, "view": {"fill": "#F9A898", "stroke": null},
         "encoding": {"x": {"field": "i", "type": "quantitative", "scale": {"domain": [-20.817, 72.28], "nice": false, "zero": false},
           "axis": {"orient": "top", "values": [0,10,20,30,40,50,60], "grid": false, "domain": false, "tickSize": -4, "labelPadding": -46, "labelAngle": -45, "labelAlign": "center", "labelBaseline": "middle", "labelOverlap": false, "labelFlush": false, "title": null,
             "labelExpr": "['Aug 05, 18:15','Aug 05, 20:45','Aug 05, 23:15','Aug 06, 01:45','Aug 06, 04:15','Aug 06, 06:45',''][round(datum.value / 10)]"}}}}
      ]
    },
    {
      "spacing": 0,
      "vconcat": [
        {"data": {"values": []}, "mark": "point", "width": 1200, "height": 103, "view": {"fill": "#F9A898", "stroke": null},
         "title": {"text": "ZECUSDT 15m newlow", "orient": "top", "anchor": "middle", "offset": -23}},
        {"spacing": 0, "hconcat": [
          {"data": {"values": []}, "mark": "point", "width": 216, "height": 605, "view": {"fill": "#F9A898", "stroke": null}},
          {"spacing": 0, "vconcat": [
            {"data": {"name": "zec"}, "width": 864, "height": 431, "view": {"fill": "#fafafa", "stroke": null},
             "encoding": {"x": {"field": "i", "type": "quantitative", "scale": {"domain": [-4.06, 62.97], "nice": false, "zero": false},
               "axis": {"values": [0,10,20,30,40,50,60], "grid": true, "labels": false, "ticks": false, "domain": false, "title": null}}},
             "layer": [
               {"mark": {"type": "rule", "color": "#2d2d2d", "strokeWidth": 1},
                "encoding": {"y": {"field": "l", "type": "quantitative", "scale": {"domain": [501.55, 523.54], "nice": false, "zero": false},
                  "axis": {"values": [502.5,505,507.5,510,512.5,515,517.5,520,522.5], "grid": true, "labels": false, "ticks": false, "domain": false, "title": null}},
                  "y2": {"field": "h"}}},
               {"mark": {"type": "bar", "size": 8.5, "strokeWidth": 0.6},
                "encoding": {"y": {"field": "o", "type": "quantitative"}, "y2": {"field": "c"},
                  "color": {"condition": {"test": "datum.c >= datum.o", "value": "#14AA6E"}, "value": "#F63442"}}},
               {"transform": [{"window": [{"op": "mean", "field": "c", "as": "ma"}, {"op": "count", "as": "n"}], "frame": [-4, 0], "sort": [{"field": "i"}]}, {"filter": "datum.n == 5"}],
                "mark": {"type": "line", "strokeWidth": 1.2, "color": "#3c5a78"}, "encoding": {"y": {"field": "ma", "type": "quantitative"}}},
               {"transform": [{"window": [{"op": "mean", "field": "c", "as": "ma"}, {"op": "count", "as": "n"}], "frame": [-9, 0], "sort": [{"field": "i"}]}, {"filter": "datum.n == 10"}],
                "mark": {"type": "line", "strokeWidth": 1.2, "color": "#F0A04B"}, "encoding": {"y": {"field": "ma", "type": "quantitative"}}},
               {"transform": [{"window": [{"op": "mean", "field": "c", "as": "ma"}, {"op": "count", "as": "n"}], "frame": [-19, 0], "sort": [{"field": "i"}]}, {"filter": "datum.n == 20"}],
                "mark": {"type": "line", "strokeWidth": 1.2, "color": "#5b7065"}, "encoding": {"y": {"field": "ma", "type": "quantitative"}}}
             ]},
            {"data": {"name": "zec"}, "width": 864, "height": 174, "view": {"fill": "#fafafa", "stroke": null},
             "mark": {"type": "bar", "size": 6.5, "opacity": 0.75},
             "encoding": {
               "x": {"field": "i", "type": "quantitative", "scale": {"domain": [-4.06, 62.97], "nice": false, "zero": false},
                 "axis": {"values": [0,10,20,30,40,50,60], "grid": true, "labels": false, "ticks": false, "domain": false, "title": null}},
               "y": {"field": "v", "type": "quantitative", "scale": {"domain": [830, 18550], "nice": false, "zero": false},
                 "axis": {"values": [5000,10000,15000], "grid": true, "labels": false, "ticks": false, "domain": false, "title": null}},
               "y2": {"datum": 830},
               "color": {"condition": {"test": "datum.c >= datum.o", "value": "#14AA6E"}, "value": "#F63442"}}}
          ]},
          {"spacing": 0, "vconcat": [
            {"data": {"values": []}, "mark": "point", "width": 120, "height": 431, "view": {"fill": "#F9A898", "stroke": null},
             "encoding": {"y": {"field": "p", "type": "quantitative", "scale": {"domain": [501.55, 523.54], "nice": false, "zero": false},
               "axis": {"orient": "left", "values": [502.5,505,507.5,510,512.5,515,517.5,520,522.5], "format": ".1f", "grid": false, "domain": false, "tickSize": -4, "labelPadding": -6, "labelAlign": "left", "labelBaseline": "middle",
                 "title": "Price", "titleX": 60, "titleY": 215, "titleAngle": -90, "titleAlign": "center", "titleBaseline": "middle"}}}},
            {"data": {"values": []}, "mark": "point", "width": 120, "height": 174, "view": {"fill": "#F9A898", "stroke": null},
             "encoding": {"y": {"field": "p", "type": "quantitative", "scale": {"domain": [830, 18550], "nice": false, "zero": false},
               "axis": {"orient": "left", "values": [5000,10000,15000], "format": "d", "grid": false, "domain": false, "tickSize": -4, "labelPadding": -6, "labelAlign": "left", "labelBaseline": "middle",
                 "title": "Volume", "titleX": 64, "titleY": 87, "titleAngle": -90, "titleAlign": "center", "titleBaseline": "middle"}}}}
          ]}
        ]},
        {"data": {"values": []}, "mark": "point", "width": 1200, "height": 154, "view": {"fill": "#F9A898", "stroke": null},
         "encoding": {"x": {"field": "i", "type": "quantitative", "scale": {"domain": [-20.817, 72.28], "nice": false, "zero": false},
           "axis": {"orient": "top", "values": [0,10,20,30,40,50,60], "grid": false, "domain": false, "tickSize": -4, "labelPadding": -46, "labelAngle": -45, "labelAlign": "center", "labelBaseline": "middle", "labelOverlap": false, "labelFlush": false, "title": null,
             "labelExpr": "['Aug 05, 18:15','Aug 05, 20:45','Aug 05, 23:15','Aug 06, 01:45','Aug 06, 04:15','Aug 06, 06:45',''][round(datum.value / 10)]"}}}}
      ]
    },
    {
      "spacing": 0,
      "vconcat": [
        {"data": {"values": []}, "mark": "point", "width": 1200, "height": 103, "view": {"fill": "#F9A898", "stroke": null},
         "title": {"text": "PENGUUSDT 15m newlow", "orient": "top", "anchor": "middle", "offset": -23}},
        {"spacing": 0, "hconcat": [
          {"data": {"values": []}, "mark": "point", "width": 216, "height": 605, "view": {"fill": "#F9A898", "stroke": null}},
          {"spacing": 0, "vconcat": [
            {"data": {"name": "pengu"}, "width": 864, "height": 431, "view": {"fill": "#fafafa", "stroke": null},
             "encoding": {"x": {"field": "i", "type": "quantitative", "scale": {"domain": [-4.06, 62.97], "nice": false, "zero": false},
               "axis": {"values": [0,10,20,30,40,50,60], "grid": true, "labels": false, "ticks": false, "domain": false, "title": null}}},
             "layer": [
               {"mark": {"type": "rule", "color": "#2d2d2d", "strokeWidth": 1},
                "encoding": {"y": {"field": "l", "type": "quantitative", "scale": {"domain": [0.0061076, 0.0063836], "nice": false, "zero": false},
                  "axis": {"values": [0.00615,0.0062,0.00625,0.0063,0.00635], "grid": true, "labels": false, "ticks": false, "domain": false, "title": null}},
                  "y2": {"field": "h"}}},
               {"mark": {"type": "bar", "size": 8.5, "strokeWidth": 0.6},
                "encoding": {"y": {"field": "o", "type": "quantitative"}, "y2": {"field": "c"},
                  "color": {"condition": {"test": "datum.c >= datum.o", "value": "#14AA6E"}, "value": "#F63442"}}},
               {"transform": [{"window": [{"op": "mean", "field": "c", "as": "ma"}, {"op": "count", "as": "n"}], "frame": [-4, 0], "sort": [{"field": "i"}]}, {"filter": "datum.n == 5"}],
                "mark": {"type": "line", "strokeWidth": 1.2, "color": "#3c5a78"}, "encoding": {"y": {"field": "ma", "type": "quantitative"}}},
               {"transform": [{"window": [{"op": "mean", "field": "c", "as": "ma"}, {"op": "count", "as": "n"}], "frame": [-9, 0], "sort": [{"field": "i"}]}, {"filter": "datum.n == 10"}],
                "mark": {"type": "line", "strokeWidth": 1.2, "color": "#F0A04B"}, "encoding": {"y": {"field": "ma", "type": "quantitative"}}},
               {"transform": [{"window": [{"op": "mean", "field": "c", "as": "ma"}, {"op": "count", "as": "n"}], "frame": [-19, 0], "sort": [{"field": "i"}]}, {"filter": "datum.n == 20"}],
                "mark": {"type": "line", "strokeWidth": 1.2, "color": "#5b7065"}, "encoding": {"y": {"field": "ma", "type": "quantitative"}}}
             ]},
            {"data": {"name": "pengu"}, "width": 864, "height": 174, "view": {"fill": "#fafafa", "stroke": null},
             "mark": {"type": "bar", "size": 6.5, "opacity": 0.75},
             "encoding": {
               "x": {"field": "i", "type": "quantitative", "scale": {"domain": [-4.06, 62.97], "nice": false, "zero": false},
                 "axis": {"values": [0,10,20,30,40,50,60], "grid": true, "labels": false, "ticks": false, "domain": false, "title": null}},
               "y": {"field": "v", "type": "quantitative", "scale": {"domain": [2, 261], "nice": false, "zero": false},
                 "axis": {"values": [50,100,150,200,250], "grid": true, "labels": false, "ticks": false, "domain": false, "title": null}},
               "y2": {"datum": 2},
               "color": {"condition": {"test": "datum.c >= datum.o", "value": "#14AA6E"}, "value": "#F63442"}}}
          ]},
          {"spacing": 0, "vconcat": [
            {"data": {"values": []}, "mark": "point", "width": 120, "height": 431, "view": {"fill": "#F9A898", "stroke": null},
             "encoding": {"y": {"field": "p", "type": "quantitative", "scale": {"domain": [0.0061076, 0.0063836], "nice": false, "zero": false},
               "axis": {"orient": "left", "values": [0.00615,0.0062,0.00625,0.0063,0.00635], "format": ".5f", "grid": false, "domain": false, "tickSize": -4, "labelPadding": -6, "labelAlign": "left", "labelBaseline": "middle",
                 "title": "Price", "titleX": 77, "titleY": 215, "titleAngle": -90, "titleAlign": "center", "titleBaseline": "middle"}}}},
            {"data": {"values": []}, "mark": "point", "width": 120, "height": 174, "view": {"fill": "#F9A898", "stroke": null},
             "encoding": {"y": {"field": "p", "type": "quantitative", "scale": {"domain": [2, 261], "nice": false, "zero": false},
               "axis": {"orient": "left", "values": [50,100,150,200,250], "format": "d", "grid": false, "domain": false, "tickSize": -4, "labelPadding": -6, "labelAlign": "left", "labelBaseline": "middle",
                 "title": "Volume  10⁶", "titleX": 49, "titleY": 87, "titleAngle": -90, "titleAlign": "center", "titleBaseline": "middle"}}}}
          ]}
        ]},
        {"data": {"values": []}, "mark": "point", "width": 1200, "height": 154, "view": {"fill": "#F9A898", "stroke": null},
         "encoding": {"x": {"field": "i", "type": "quantitative", "scale": {"domain": [-20.817, 72.28], "nice": false, "zero": false},
           "axis": {"orient": "top", "values": [0,10,20,30,40,50,60], "grid": false, "domain": false, "tickSize": -4, "labelPadding": -46, "labelAngle": -45, "labelAlign": "center", "labelBaseline": "middle", "labelOverlap": false, "labelFlush": false, "title": null,
             "labelExpr": "['Aug 05, 18:15','Aug 05, 20:45','Aug 05, 23:15','Aug 06, 01:45','Aug 06, 04:15','Aug 06, 06:45',''][round(datum.value / 10)]"}}}}
      ]
    }
  ]
}
